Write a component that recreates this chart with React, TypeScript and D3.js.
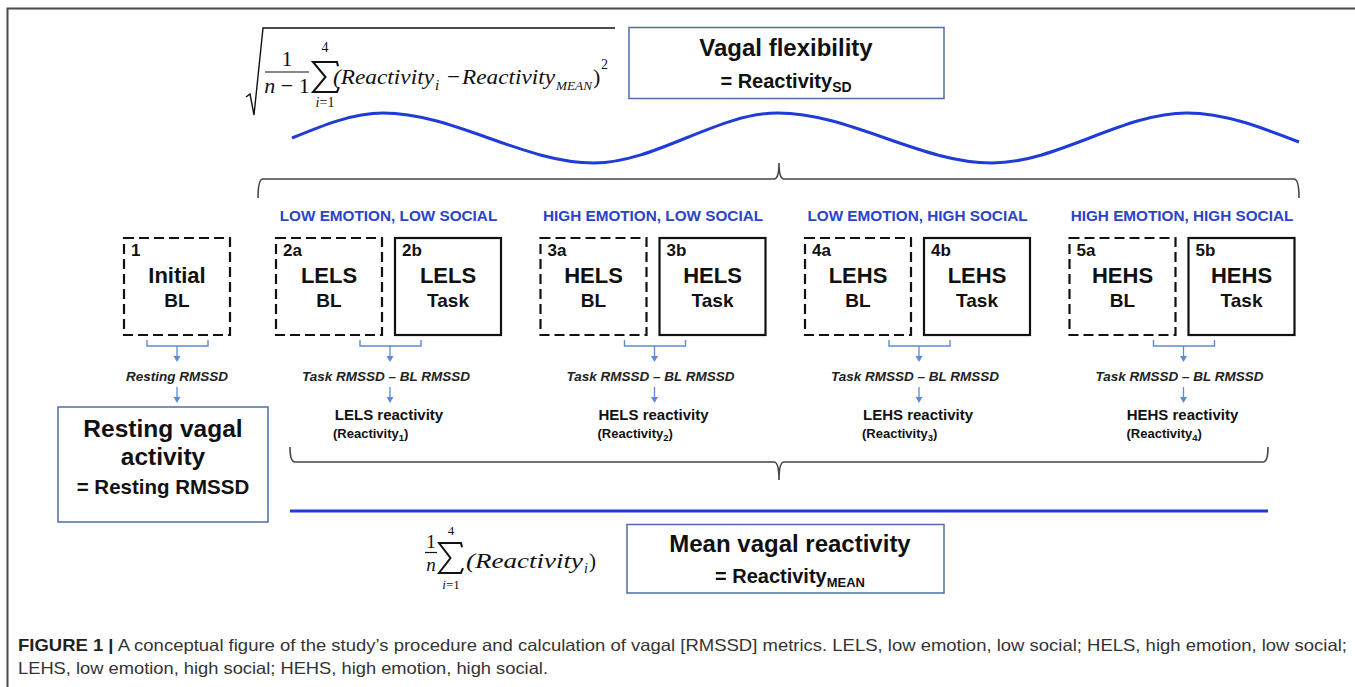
import React from 'react';
import * as d3 from 'd3';

// condition blocks, left to right
const conditionCodes = ['LELS', 'HELS', 'LEHS', 'HEHS'];
const conditionHeaders = [
  'LOW EMOTION, LOW SOCIAL',
  'HIGH EMOTION, LOW SOCIAL',
  'LOW EMOTION, HIGH SOCIAL',
  'HIGH EMOTION, HIGH SOCIAL',
];
const baselineIds = ['2a', '3a', '4a', '5a'];
const taskIds = ['2b', '3b', '4b', '5b'];
const reactivityIds = ['1', '2', '3', '4'];

// flexibility wave (x, y)
const wavePoints: [number, number][] = [
  [292, 138], [383, 113], [594, 163], [778, 113], [992, 163], [1187, 113], [1299, 142],
];

const captionBold = 'FIGURE 1 |';
const captionLine1 =
  ' A conceptual figure of the study\u2019s procedure and calculation of vagal [RMSSD] metrics. LELS, low emotion, low social; HELS, high emotion, low social;';
const captionLine2 = 'LEHS, low emotion, high social; HEHS, high emotion, high social.';

const W = 1355;
const H = 687;
const SANS = '"Liberation Sans", Arial, Helvetica, sans-serif';
const SERIF = '"Liberation Serif", "Times New Roman", serif';
const HEADER_BLUE = '#2b44c8';
const ARROW_BLUE = '#5b8bd8';
const BOX_BLUE = '#4d6ea8';
const LINE_BLUE = '#1f3bd8';

const BOX_W = 106;
const TASK_OFFSET = 119;
const BOX_TOP = 238;
const BOX_H = 97;

const pairX = d3.scaleLinear().domain([0, conditionCodes.length - 1]).range([276, 1069.5]);

function Arrow({ x, y1, y2 }: { x: number; y1: number; y2: number }) {
  return (
    <g>
      <line x1={x} x2={x} y1={y1} y2={y2 - 5} stroke={ARROW_BLUE} strokeWidth={1.3} />
      <path d={`M${x - 3.5},${y2 - 6}L${x + 3.5},${y2 - 6}L${x},${y2}Z`} fill={ARROW_BLUE} />
    </g>
  );
}

function Bracket({ x0, x1, y }: { x0: number; x1: number; y: number }) {
  return (
    <path
      d={`M${x0},${y - 6}V${y}H${x1}V${y - 6}`}
      fill="none"
      stroke={ARROW_BLUE}
      strokeWidth={1.4}
    />
  );
}

// summation sign drawn as a path so it keeps clear of its limits
function Sigma({ x, y, w, h }: { x: number; y: number; w: number; h: number }) {
  const p = d3.path();
  p.moveTo(x + w, y + h * 0.14);
  p.lineTo(x + w - 1, y);
  p.lineTo(x, y);
  p.lineTo(x + w * 0.5, y + h * 0.5);
  p.lineTo(x, y + h);
  p.lineTo(x + w - 1, y + h);
  p.lineTo(x + w + 1, y + h * 0.84);
  return <path d={p.toString()} fill="none" stroke="#111" strokeWidth={2} strokeLinejoin="miter" />;
}

function bracePath(x0: number, x1: number, tipX: number, y: number, endDy: number, tipDy: number) {
  const p = d3.path();
  p.moveTo(x0, y + endDy);
  p.quadraticCurveTo(x0, y, x0 + 5, y);
  p.lineTo(tipX - 5, y);
  p.quadraticCurveTo(tipX, y, tipX, y + tipDy);
  p.quadraticCurveTo(tipX, y, tipX + 5, y);
  p.lineTo(x1 - 5, y);
  p.quadraticCurveTo(x1, y, x1, y + endDy);
  return p.toString();
}

function CondBox({ x, id, line1, line2, dashed }: { x: number; id: string; line1: string; line2: string; dashed: boolean }) {
  const cx = x + BOX_W / 2;
  return (
    <g>
      <rect
        x={x}
        y={BOX_TOP}
        width={BOX_W}
        height={BOX_H}
        fill="none"
        stroke="#111"
        strokeWidth={2.2}
        strokeDasharray={dashed ? '10,5' : undefined}
      />
      <text x={x + 7} y={BOX_TOP + 18} fontSize={17} fontWeight="bold" fill="#111">{id}</text>
      <text x={cx} y={BOX_TOP + 45} fontSize={22} fontWeight="bold" textAnchor="middle" fill="#111">{line1}</text>
      <text x={cx} y={BOX_TOP + 69} fontSize={19} fontWeight="bold" textAnchor="middle" fill="#111">{line2}</text>
    </g>
  );
}

export default function App() {
  const wave = d3.line().curve(d3.curveMonotoneX)(wavePoints) || '';
  const initialX = 124;
  const initialCx = initialX + BOX_W / 2;

  return (
    <svg
      width={W}
      height={H}
      style={{ position: 'absolute', left: 0, top: 0, background: '#fff' }}
      fontFamily={SANS}
    >
      {/* outer frame */}
      <path d={`M${W + 2},8.5H7.5V${H + 2}`} fill="none" stroke="#4a4a4a" strokeWidth={2} />

      {/* SD formula */}
      <g fontFamily={SERIF} fill="#111">
        <path d="M246,97L250,94L254,115L263,28H615" fill="none" stroke="#111" strokeWidth={1.4} />
        <text x={287} y={66} fontSize={22} textAnchor="middle">1</text>
        <line x1={265} x2={309} y1={72} y2={72} stroke="#111" strokeWidth={1.2} />
        <text x={287} y={93} fontSize={22} textAnchor="middle">
          <tspan fontStyle="italic">n</tspan> − 1
        </text>
        <text x={325} y={52} fontSize={14} textAnchor="middle">4</text>
        <Sigma x={313} y={62} w={25} h={30} />
        <text x={325} y={107} fontSize={14} textAnchor="middle">
          <tspan fontStyle="italic">i</tspan>=1
        </text>
        <text x={333} y={84} fontSize={22} fontStyle="italic" textLength={101} lengthAdjust="spacingAndGlyphs">(Reactivity</text>
        <text x={435} y={90} fontSize={15} fontStyle="italic">i</text>
        <text x={447} y={84} fontSize={22} textLength={13} lengthAdjust="spacingAndGlyphs">−</text>
        <text x={462} y={84} fontSize={22} fontStyle="italic" textLength={93} lengthAdjust="spacingAndGlyphs">Reactivity</text>
        <text x={556} y={90} fontSize={13} fontStyle="italic" textLength={36} lengthAdjust="spacingAndGlyphs">MEAN</text>
        <text x={593} y={84} fontSize={22}>)</text>
        <text x={601} y={69} fontSize={14}>2</text>
      </g>

      {/* vagal flexibility box */}
      <rect x={629} y={27.5} width={315} height={71} fill="none" stroke={BOX_BLUE} strokeWidth={1.5} />
      <text x={786} y={56} fontSize={24} fontWeight="bold" textAnchor="middle" fill="#111">Vagal flexibility</text>
      <text x={786} y={88} fontSize={20} fontWeight="bold" textAnchor="middle" fill="#111">
        = Reactivity<tspan fontSize={14} dy={4}>SD</tspan>
      </text>

      {/* wave */}
      <path d={wave} fill="none" stroke={LINE_BLUE} strokeWidth={3} />

      {/* top brace */}
      <path d={bracePath(258, 1299, 779, 179, 19, -16)} fill="none" stroke="#444" strokeWidth={1.6} />

      {/* initial baseline */}
      <CondBox x={initialX} id="1" line1="Initial" line2="BL" dashed />
      <Bracket x0={initialCx - 30} x1={initialCx + 31} y={346} />
      <Arrow x={initialCx} y1={346} y2={362} />
      <text x={initialCx} y={381} fontSize={13.5} fontStyle="italic" fontWeight="bold" textAnchor="middle" fill="#222">
        Resting RMSSD
      </text>
      <Arrow x={initialCx} y1={387} y2={403} />

      {/* resting vagal activity box */}
      <rect x={58} y={407} width={210} height={115} fill="none" stroke={BOX_BLUE} strokeWidth={1.5} />
      <text x={163} y={437} fontSize={24.5} fontWeight="bold" textAnchor="middle" fill="#111">Resting vagal</text>
      <text x={163} y={465} fontSize={24.5} fontWeight="bold" textAnchor="middle" fill="#111">activity</text>
      <text x={163} y={494} fontSize={20.5} fontWeight="bold" textAnchor="middle" fill="#111">= Resting RMSSD</text>

      {/* condition pairs */}
      {conditionCodes.map((code, i) => {
        const x = pairX(i);
        const cx = x + (TASK_OFFSET + BOX_W) / 2;
        const ax = x + 114;
        return (
          <g key={code}>
            <text x={cx} y={221} fontSize={15.3} fontWeight="bold" textAnchor="middle" fill={HEADER_BLUE}>
              {conditionHeaders[i]}
            </text>
            <CondBox x={x} id={baselineIds[i]} line1={code} line2="BL" dashed />
            <CondBox x={x + TASK_OFFSET} id={taskIds[i]} line1={code} line2="Task" dashed={false} />
            <Bracket x0={x + 84} x1={x + 145} y={346} />
            <Arrow x={ax} y1={346} y2={362} />
            <text x={ax - 4} y={381} fontSize={13.5} fontStyle="italic" fontWeight="bold" textAnchor="middle" fill="#222">
              Task RMSSD – BL RMSSD
            </text>
            <Arrow x={ax} y1={387} y2={403} />
            <text x={ax - 1} y={420} fontSize={15} fontWeight="bold" textAnchor="middle" fill="#111">
              {code} reactivity
            </text>
            <text x={ax - 57} y={438} fontSize={13} fontWeight="bold" fill="#111">
              (Reactivity<tspan fontSize={9.5} dy={3}>{reactivityIds[i]}</tspan><tspan dy={-3}>)</tspan>
            </text>
          </g>
        );
      })}

      {/* bottom brace */}
      <path d={bracePath(290, 1268, 779, 462, -15, 18)} fill="none" stroke="#444" strokeWidth={1.6} />

      {/* mean line */}
      <line x1={290} x2={1268} y1={511} y2={511} stroke={LINE_BLUE} strokeWidth={3} />

      {/* mean formula */}
      <g fontFamily={SERIF} fill="#111">
        <text x={431} y={548} fontSize={19} textAnchor="middle">1</text>
        <line x1={425} x2={437} y1={552.5} y2={552.5} stroke="#111" strokeWidth={1.2} />
        <text x={431} y={571} fontSize={19} fontStyle="italic" textAnchor="middle">n</text>
        <text x={451} y={535} fontSize={13} textAnchor="middle">4</text>
        <Sigma x={439} y={543} w={23} h={30} />
        <text x={451} y={589} fontSize={13} textAnchor="middle">
          <tspan fontStyle="italic">i</tspan>=1
        </text>
        <text x={466} y={568} fontSize={21} fontStyle="italic" textLength={117} lengthAdjust="spacingAndGlyphs">(Reactivity</text>
        <text x={584} y={573} fontSize={14} fontStyle="italic">i</text>
        <text x={589} y={568} fontSize={21}>)</text>
      </g>

      {/* mean vagal reactivity box */}
      <rect x={627} y={524.5} width={317} height={68.5} fill="none" stroke={BOX_BLUE} strokeWidth={1.5} />
      <text x={790} y={552} fontSize={24} fontWeight="bold" textAnchor="middle" fill="#111">Mean vagal reactivity</text>
      <text x={790} y={583} fontSize={20} fontWeight="bold" textAnchor="middle" fill="#111">
        = Reactivity<tspan fontSize={13} dy={4}>MEAN</tspan>
      </text>

      {/* caption */}
      <text x={18} y={651} fontSize={16.5} fill="#333" textLength={1329} lengthAdjust="spacingAndGlyphs">
        <tspan fontWeight="bold" fill="#222">{captionBold}</tspan>
        {captionLine1}
      </text>
      <text x={18} y={674} fontSize={16.5} fill="#333" textLength={530} lengthAdjust="spacingAndGlyphs">
        {captionLine2}
      </text>
    </svg>
  );
}
